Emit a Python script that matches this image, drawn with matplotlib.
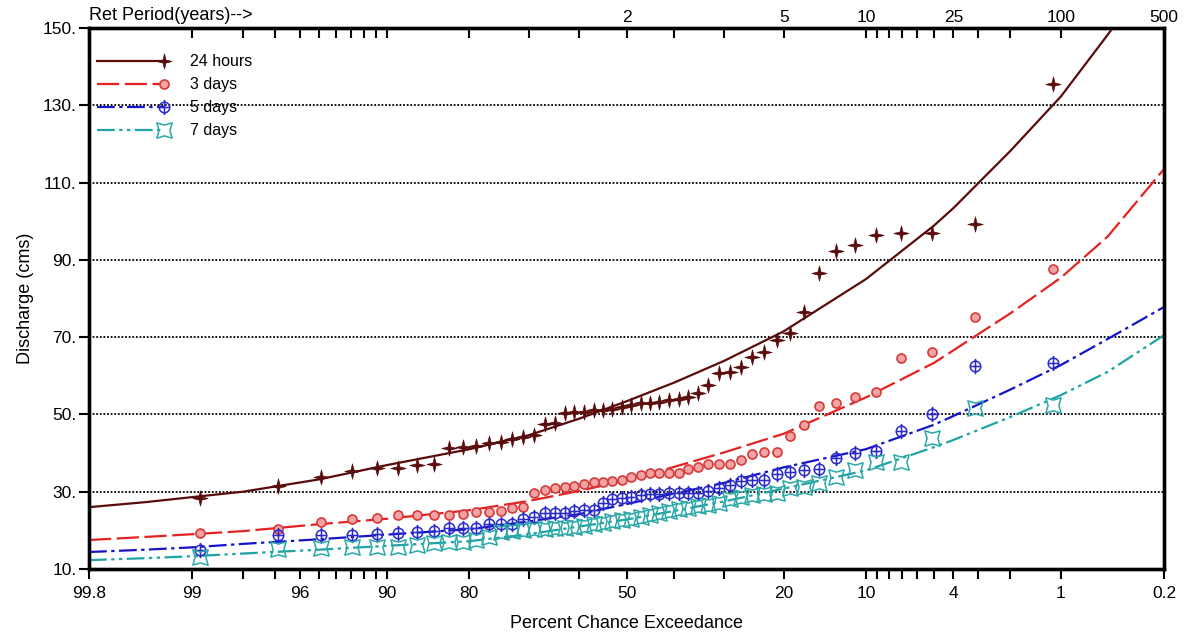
import matplotlib
matplotlib.use("Agg")
import matplotlib.pyplot as plt
import numpy as np
from matplotlib.lines import Line2D
from matplotlib.path import Path
from matplotlib.legend_handler import HandlerLine2D
from statistics import NormalDist

plt.rcParams['font.family'] = ['Liberation Sans', 'DejaVu Sans']

# plotting positions (% chance exceedance) of the 50 ranked events, largest first
plot_pos = [1.12, 3.11, 5.11, 7.10, 9.10, 11.09, 13.09, 15.08, 17.08, 19.07,
            21.07, 23.06, 25.06, 27.06, 29.05, 31.05, 33.04, 35.04, 37.03, 39.03,
            41.02, 43.02, 45.01, 47.01, 49.00, 51.00, 52.99, 54.99, 56.98, 58.98,
            60.97, 62.97, 64.96, 66.96, 68.95, 70.95, 72.94, 74.94, 76.94, 78.93,
            80.93, 82.92, 84.92, 86.91, 88.91, 90.90, 92.90, 94.89, 96.89, 98.88]

q_24h = [135.5, 99.3, 97.0, 97.0, 96.4, 93.9, 92.3, 86.7, 76.6, 71.2,
         69.3, 66.2, 64.8, 62.2, 61.1, 60.8, 57.6, 55.6, 54.6, 54.0,
         53.7, 53.3, 53.0, 53.0, 52.4, 52.0, 51.5, 51.1, 51.1, 50.7,
         50.6, 50.3, 47.9, 47.5, 44.7, 44.2, 43.6, 42.9, 42.5, 41.8,
         41.6, 41.4, 37.2, 36.9, 36.1, 36.1, 35.4, 33.9, 31.5, 28.3]
q_3d = [87.6, 75.1, 66.2, 64.5, 55.7, 54.6, 52.9, 52.2, 47.3, 44.4,
        40.4, 40.2, 39.8, 38.2, 37.2, 37.2, 37.2, 36.3, 35.8, 34.9,
        34.9, 34.9, 34.9, 34.3, 33.9, 33.0, 32.8, 32.6, 32.4, 31.9,
        31.5, 31.1, 30.9, 30.4, 29.6, 26.1, 25.7, 25.0, 24.8, 24.8,
        24.2, 24.0, 24.0, 24.0, 24.0, 23.1, 22.9, 22.2, 20.4, 19.2]
q_5d = [63.4, 62.6, 50.0, 45.7, 40.6, 39.9, 38.8, 35.8, 35.6, 35.2,
        34.6, 33.0, 33.0, 32.9, 31.7, 30.9, 30.3, 29.7, 29.6, 29.6,
        29.6, 29.3, 29.3, 29.2, 28.7, 28.3, 28.0, 27.0, 25.3, 25.3,
        25.0, 24.6, 24.6, 24.4, 23.5, 22.9, 21.6, 21.6, 21.6, 20.5,
        20.5, 20.5, 19.8, 19.7, 19.4, 19.1, 18.8, 18.8, 18.8, 14.9]
q_7d = [52.4, 51.6, 43.8, 37.8, 37.8, 35.6, 33.9, 32.3, 31.3, 30.9,
        29.7, 29.4, 29.2, 28.7, 28.0, 27.2, 26.6, 26.2, 25.8, 25.5,
        25.0, 24.5, 24.0, 23.5, 23.0, 22.6, 22.3, 22.0, 21.6, 21.2,
        20.9, 20.7, 20.5, 20.4, 20.3, 20.1, 19.9, 19.7, 18.4, 17.5,
        17.1, 16.9, 16.7, 16.2, 15.8, 15.6, 15.6, 15.4, 15.1, 13.2]

# fitted frequency curves
curve_pct = [99.8, 99.5, 99, 98, 95, 90, 80, 70, 60, 50, 40, 30, 20, 10, 5, 4, 2, 1, 0.5, 0.2]
fit_24h = [26.0, 27.3, 28.6, 30.0, 33.2, 36.9, 41.0, 44.6, 48.9, 53.4,
           58.2, 63.9, 71.5, 85.0, 98.8, 103.4, 118.1, 132.3, 148.2, 168.0]
fit_3d = [17.5, 18.3, 19.0, 19.8, 21.6, 23.0, 25.2, 27.6, 30.2, 33.0,
          36.4, 40.2, 45.0, 54.4, 63.3, 66.6, 76.1, 85.4, 96.0, 113.5]
fit_5d = [14.4, 15.0, 15.6, 16.5, 17.7, 18.9, 20.3, 22.3, 24.2, 26.8,
          29.5, 32.3, 36.3, 41.0, 47.3, 49.6, 56.4, 62.8, 69.5, 77.8]
fit_7d = [12.3, 12.8, 13.3, 14.0, 15.0, 16.0, 17.2, 19.0, 21.0, 22.8,
          25.0, 27.5, 30.8, 35.5, 41.5, 43.4, 49.3, 55.0, 61.0, 70.5]

tick_pct = [99.8, 99, 98, 97, 96, 95, 94, 93, 92, 91, 90, 80, 70, 60, 50,
            40, 30, 20, 10, 9, 8, 7, 6, 5, 4, 3, 2, 1, 0.2]
bottom_labels = {99.8: '99.8', 99: '99', 96: '96', 90: '90', 80: '80', 50: '50',
                 20: '20', 10: '10', 4: '4', 1: '1', 0.2: '0.2'}
top_labels = {50: '2', 20: '5', 10: '10', 4: '25', 1: '100', 0.2: '500'}
y_ticks = [10, 30, 50, 70, 90, 110, 130, 150]

ND = NormalDist()


# normal probability scale (increasing in %, axis is inverted afterwards)
def to_z(p):
    p = np.clip(np.asarray(p, dtype=float), 1e-6, 100 - 1e-6)
    return np.vectorize(lambda v: ND.inv_cdf(v / 100), otypes=[float])(p)


def from_z(z):
    z = np.asarray(z, dtype=float)
    return np.vectorize(lambda v: 100 * ND.cdf(v), otypes=[float])(z)


def star(n, r_in, rot):
    ang = np.arange(2 * n) * np.pi / n + rot
    r = np.where(np.arange(2 * n) % 2 == 0, 1.0, r_in)
    verts = np.column_stack([r * np.cos(ang), r * np.sin(ang)])
    return Path(np.vstack([verts, verts[:1]]), closed=True)


star4 = star(4, 0.28, np.pi / 2)
star4_open = star(4, 0.5, np.pi / 4)
circ_plus = Path.make_compound_path(
    Path.unit_circle(),
    Path([(-1, 0), (1, 0)]),
    Path([(0, -1.45), (0, 1.45)]))


class EndMarker(HandlerLine2D):
    def create_artists(self, *args, **kwargs):
        arts = super().create_artists(*args, **kwargs)
        arts[0].set_markevery([2])
        return arts


series = [
    ("24 hours", q_24h, fit_24h, '#5a0b0b', '-', dict(marker=star4, ms=11, mfc='#5a0b0b', mec='#5a0b0b', mew=0.5)),
    ("3 days", q_3d, fit_3d, '#e52222', (0, (10, 2.5)), dict(marker='o', ms=6.5, mfc='#f2a3a3', mec='#d83a3a', mew=1.2)),
    ("5 days", q_5d, fit_5d, '#1414c8', (0, (8, 2, 1.5, 2)), dict(marker=circ_plus, ms=11, mfc='none', mec='#2a2acc', mew=1.1)),
    ("7 days", q_7d, fit_7d, '#1fa3a3', (0, (8, 2, 1.5, 2, 1.5, 2)), dict(marker=star4_open, ms=11, mfc='none', mec='#2aa8a8', mew=1.1)),
]

fig = plt.figure(figsize=(11.88, 6.39), dpi=100)
ax = fig.add_axes([89 / 1188, 1 - 569 / 639, (1164 - 89) / 1188, (569 - 28) / 639])
ax.set_xscale('function', functions=(to_z, from_z))

handles = []
for name, q, fit, col, ls, mk in series:
    ax.plot(curve_pct, fit, color=col, linestyle=ls, linewidth=1.6, zorder=3)
    ax.plot(plot_pos, q, linestyle='none', zorder=4, **mk)
    handles.append(Line2D([], [], color=col, linestyle=ls, linewidth=1.6, label=name, **mk))

ax.set_xlim(99.8, 0.2)
ax.set_ylim(10, 150)
ax.set_xticks(tick_pct, labels=[bottom_labels.get(t, '') for t in tick_pct])
ax.set_yticks(y_ticks, labels=[f"{v}." for v in y_ticks])
ax.tick_params(axis='x', direction='out', length=7, width=1.5, labelsize=12.5, pad=5)
ax.tick_params(axis='y', direction='out', length=7, width=1.5, labelsize=12.5, pad=2)
ax.grid(axis='y', color='black', linestyle=(0, (1, 1)), linewidth=1.3)
for sp in ax.spines.values():
    sp.set_linewidth(2.4)

top = ax.twiny()
top.set_xscale('function', functions=(to_z, from_z))
top.set_xlim(99.8, 0.2)
top.set_xticks(tick_pct, labels=[top_labels.get(t, '') for t in tick_pct])
top.tick_params(axis='x', direction='in', length=7, width=1.5, labelsize=12.5, pad=2)
for sp in top.spines.values():
    sp.set_linewidth(2.4)

ax.annotate('Ret Period(years)-->', xy=(0, 1), xycoords='axes fraction',
            xytext=(0, 3), textcoords='offset points', ha='left', va='bottom', fontsize=13)
ax.set_xlabel('Percent Chance Exceedance', fontsize=13, labelpad=10)
ax.set_ylabel('Discharge (cms)', fontsize=13, labelpad=6)

ax.legend(handles=handles, loc='upper left', bbox_to_anchor=(-0.006, 0.978), frameon=False,
          fontsize=11.5, handlelength=4.2, handletextpad=1.65, labelspacing=0.5,
          numpoints=1, handler_map={Line2D: EndMarker()})

fig.savefig('out.png', dpi=100)
